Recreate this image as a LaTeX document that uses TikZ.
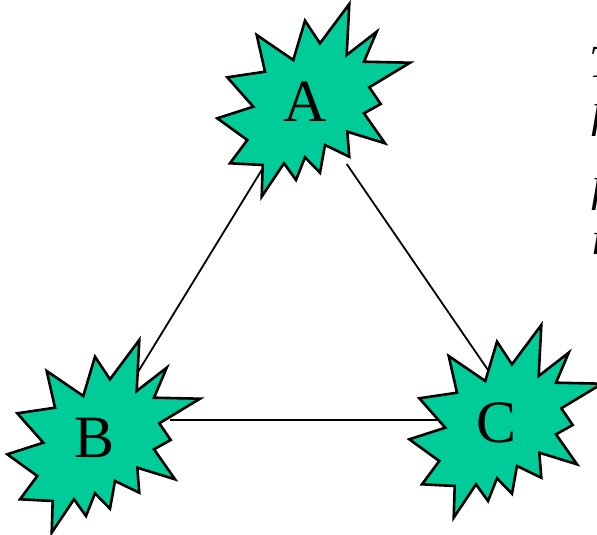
\documentclass[tikz,border=0pt]{standalone}
\usepackage{fontspec}
\setmainfont{Liberation Serif}
\usetikzlibrary{calc}
\definecolor{burstgreen}{RGB}{0,204,153}

\begin{document}
\begin{tikzpicture}[
    x=1pt, y=-1pt,
    burst/.pic={
      \filldraw[fill=burstgreen, draw=black, line width=2.6pt, line join=miter]
        (44.3,-98) -- (41.7,-47) -- (71.7,-70.3) -- (59,-40.3) -- (105,-39.3)
        -- (64.3,-14.7) -- (75.7,2) -- (59,11.3) -- (80,41.3) -- (42.3,29.7)
        -- (44.3,54.7) -- (20,43) -- (15,70.7) -- (0,55.3) -- (-9,78)
        -- (-21,61.3) -- (-43.3,94.7) -- (-42.3,63) -- (-75,61.3) -- (-57.7,38)
        -- (-87.7,16.3) -- (-51.7,4.7) -- (-77.7,-24.7) -- (-40,-30.3)
        -- (-48.3,-67) -- (-11.7,-42) -- (0,-81.3) -- (15,-58.7) -- cycle;
    },
    lbl/.style={inner sep=0pt, font=\fontsize{60}{60}\selectfont},
    link/.style={draw, line width=1.8pt},
    side/.style={inner sep=0pt, anchor=north west, font=\fontsize{46}{46}\selectfont\itshape}
]
\clip (0,0) rectangle (597,535);

% stars
\pic at (305,102) {burst};
\pic at (95,438) {burst};
\pic at (497,423) {burst};

% labels
\node[lbl] (A) at (305,102) {A};
\node[lbl] (B) at (95,438) {B};
\node[lbl] (C) at (497,423) {C};

% links
\draw[link] ($(A)+(-43.3,68)$) -- ($(B)+(43,-66)$);
\draw[link] ($(A)+(41.7,62)$) -- ($(C)+(-9,-53)$);
\draw[link] ($(B)+(75,-18)$) -- ($(C)+(-57,-3)$);

% text cut off at the right edge
\node[side] (t1) at (589,47) {T};
\node[side] (t2) at (590,104) {h};
\node[side] (t3) at (590,178) {h};
\node[side] (t4) at (591,224) {i};
\end{tikzpicture}
\end{document}
